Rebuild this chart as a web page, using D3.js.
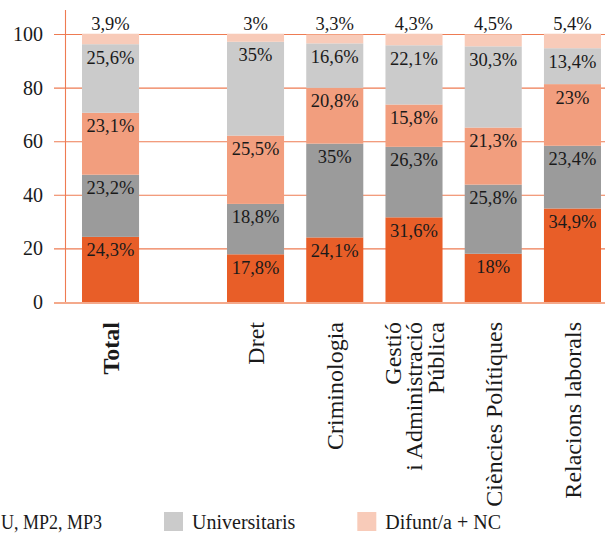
<!DOCTYPE html>
<html>
<head>
<meta charset="utf-8">
<script src="https://cdn.jsdelivr.net/npm/d3@7"></script>
<style>
  html, body { margin: 0; padding: 0; background: #fff; }
  svg { display: block; }
  text { font-family: "Liberation Serif", "Times New Roman", serif; fill: #1a1a1a; }
</style>
</head>
<body>
<svg id="chart" width="605" height="533"></svg>
<script>
// ---- data ----
const categories = ["Total", "Dret", "Criminologia", "Gestió i Administració Pública", "Ciències Polítiques", "Relacions laborals"];
const categoryLines = [["Total"], ["Dret"], ["Criminologia"], ["Gestió", "i Administració", "Pública"], ["Ciències Polítiques"], ["Relacions laborals"]];
const seriesNames = ["Sense estudis, primaris", "EGB, ESO, MP1", "Batxillerat, BUP, COU, MP2, MP3", "Universitaris", "Difunt/a + NC"];
// legend entries as far as they are visible in the picture (the first ones lie beyond its left edge)
const legendLabels = ["U, MP2, MP3", "Universitaris", "Difunt/a + NC"];
const legendSeries = [2, 3, 4];
const s1 = [24.3, 17.8, 24.1, 31.6, 18.0, 34.9];
const s2 = [23.2, 18.8, 35.0, 26.3, 25.8, 23.4];
const s3 = [23.1, 25.5, 20.8, 15.8, 21.3, 23.0];
const s4 = [25.6, 35.0, 16.6, 22.1, 30.3, 13.4];
const s5 = [3.9, 3.0, 3.3, 4.3, 4.5, 5.4];
const yTicks = [0, 20, 40, 60, 80, 100];

// ---- styles ----
const colors = ["#E85E28", "#9B9B9B", "#F29E7E", "#CBCBCB", "#F8CBB9"];
const gridColor = "#EE7B52";
const zeroColor = "#F4A98B";

const svg = d3.select("#chart");
const series = [s1, s2, s3, s4, s5];
const rows = categories.map((c, i) => {
  const o = { cat: c };
  seriesNames.forEach((n, k) => o[n] = series[k][i]);
  return o;
});
const stacked = d3.stack().keys(seriesNames)(rows);

// ---- scales ----
const y = d3.scaleLinear().domain([0, 100]).range([302, 34]);
const subjects = categories.slice(1);
const xb = d3.scaleBand().domain(subjects).range([227, 601]).paddingInner(0.28).paddingOuter(0);
const totalGapSteps = 1.83;
const xPos = c => c === "Total" ? xb(subjects[0]) - totalGapSteps * xb.step() : xb(c);
const bw = xb.bandwidth();

// ---- grid ----
const gridG = svg.append("g");
gridG.selectAll("line").data(yTicks.filter(t => t !== 0)).join("line")
  .attr("x1", 54).attr("x2", 605)
  .attr("y1", d => y(d) + 0.5).attr("y2", d => y(d) + 0.5)
  .attr("stroke", gridColor).attr("stroke-width", 1.1);
svg.append("line").attr("x1", 65.5).attr("x2", 65.5).attr("y1", 10).attr("y2", y(0))
  .attr("stroke", gridColor).attr("stroke-width", 1.1);

// tick labels
svg.append("g").selectAll("text").data(yTicks).join("text")
  .attr("x", 43).attr("y", d => y(d)).attr("dy", "0.35em")
  .attr("text-anchor", "end").style("font-size", "20px")
  .text(d => d);

// ---- bars ----
const barG = svg.append("g");
stacked.forEach((layer, k) => {
  barG.append("g").selectAll("rect").data(layer).join("rect")
    .attr("x", d => xPos(d.data.cat)).attr("width", bw)
    .attr("y", d => y(d[1])).attr("height", d => y(d[0]) - y(d[1]))
    .attr("fill", colors[k]);
});

// zero line
svg.append("line").attr("x1", 54).attr("x2", 605).attr("y1", y(0) + 1).attr("y2", y(0) + 1)
  .attr("stroke", zeroColor).attr("stroke-width", 2);

// ---- value labels ----
const fmt = v => String(v).replace(".", ",") + "%";
stacked.forEach((layer, k) => {
  svg.append("g").selectAll("text").data(layer).join("text")
    .attr("x", d => xPos(d.data.cat) + bw / 2)
    .attr("y", d => k === 4 ? y(100) - 10 : y(d[1]) + 13)
    .attr("dy", "0.35em")
    .attr("text-anchor", "middle").style("font-size", "18.5px")
    .text(d => fmt(series[k][categories.indexOf(d.data.cat)]));
});

// ---- category labels ----
const catG = svg.append("g");
categories.forEach((c, i) => {
  const lines = categoryLines[i];
  const cx = xPos(c) + bw / 2;
  const lh = 21.5;
  const t = catG.append("text")
    .attr("transform", `translate(${cx},322) rotate(-90)`)
    .attr("text-anchor", "end")
    .style("font-size", "24px")
    .style("font-weight", c === "Total" ? "bold" : "normal");
  lines.forEach((ln, j) => {
    t.append("tspan").attr("x", 0)
      .attr("y", (j - (lines.length - 1) / 2) * lh)
      .attr("dy", "0.35em").text(ln);
  });
});

// ---- legend ----
const legG = svg.append("g");
const legendY = 512, anchorX = 164, sw = 19, tGap = 9, itemGap = 62;
// first visible entry: only its text tail is inside the picture
const firstEnd = anchorX - itemGap;
legG.append("text").attr("x", 1).attr("y", legendY + sw / 2).attr("dy", "0.35em")
  .attr("textLength", firstEnd - 1).attr("lengthAdjust", "spacingAndGlyphs")
  .style("font-size", "20px").text(legendLabels[0]);
let lx = anchorX;
for (let k = 1; k < legendLabels.length; k++) {
  legG.append("rect").attr("x", lx).attr("y", legendY).attr("width", sw).attr("height", sw)
    .attr("fill", colors[legendSeries[k]]);
  const t = legG.append("text").attr("x", lx + sw + tGap).attr("y", legendY + sw / 2).attr("dy", "0.35em")
    .style("font-size", "20px").text(legendLabels[k]);
  lx += sw + tGap + t.node().getComputedTextLength() + itemGap;
}
</script>
</body>
</html>
